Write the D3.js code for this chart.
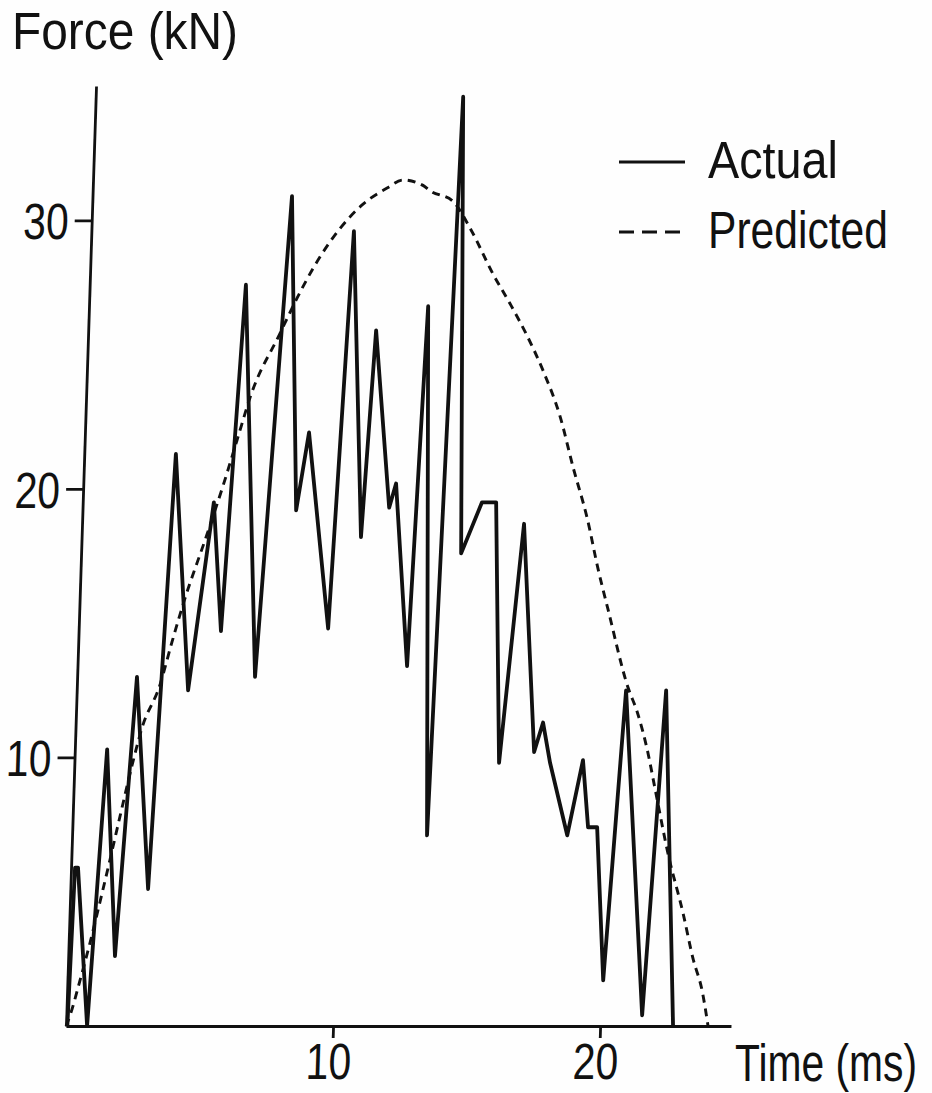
<!DOCTYPE html>
<html>
<head>
<meta charset="utf-8">
<script src="https://cdn.jsdelivr.net/npm/d3@7"></script>
<style>
  html, body { margin: 0; padding: 0; background: #fefefe; }
  svg { display: block; }
  text { font-family: "Liberation Sans", Arial, sans-serif; fill: #111; }
</style>
</head>
<body>
<svg id="chart" width="932" height="1093"></svg>
<script>
// Measured impact force (kN) against time (ms)
const actualTime  = [0.05, 0.15, 0.26, 0.79, 1.21, 1.75, 2.24, 2.91, 3.43, 4.17, 4.91, 5.33, 5.85, 6.66, 7.47, 8.00, 8.39, 9.34, 9.83, 10.46, 10.78, 11.48, 11.71, 12.34, 12.70, 13.29, 13.76, 14.23, 14.95, 15.48, 15.90, 16.55, 17.20, 17.50, 17.81, 18.54, 19.04, 19.31, 19.65, 20.06, 20.57, 21.56, 22.07, 22.73];
const actualForce = [0.0, 5.9, 5.9, 0.0, 10.3, 2.6, 13.0, 5.1, 21.3, 12.5, 19.5, 14.7, 27.6, 13.0, 30.9, 19.2, 22.1, 14.8, 29.6, 18.2, 25.9, 19.3, 20.2, 13.4, 26.8, 7.1, 34.6, 17.6, 19.5, 19.5, 9.8, 18.7, 10.2, 11.3, 9.8, 7.1, 9.9, 7.4, 7.4, 1.7, 12.5, 0.4, 12.5, 0.0];

// Model prediction of the same impact
const predictedTime  = [0.0, 0.14, 0.47, 0.80, 1.12, 1.45, 1.77, 2.16, 2.49, 3.11, 3.51, 3.88, 4.69, 5.23, 5.70, 6.14, 7.19, 7.78, 8.34, 9.31, 10.14, 11.02, 11.61, 12.36, 12.63, 13.51, 14.18, 15.09, 15.76, 16.44, 17.08, 17.77, 18.32, 18.91, 19.38, 19.80, 20.64, 21.01, 21.43, 21.78, 22.34, 22.97, 23.40, 23.78, 24.04];
const predictedForce = [0.0, 0.4, 1.7, 3.1, 4.6, 6.2, 7.8, 9.7, 11.1, 12.7, 14.3, 15.7, 18.3, 20.1, 21.8, 23.4, 25.8, 27.1, 28.2, 29.7, 30.6, 31.2, 31.5, 31.3, 31.1, 30.7, 29.7, 28.0, 26.9, 25.7, 24.4, 22.7, 20.8, 18.9, 17.0, 15.5, 12.6, 11.7, 10.3, 8.8, 6.4, 4.2, 2.5, 1.3, 0.0];

const yTicks = [10, 20, 30];
const xTicks = [10, 20];
const legendItems = [
  { label: "Actual",    dash: null,   width: 130 },
  { label: "Predicted", dash: "15,8", width: 180 }
];

const svg = d3.select("#chart");
const ink = "#111";
const fontSize = 51;

// narrow lettering: squeeze each label horizontally
function narrow(sel, factor) {
  sel.each(function () {
    const w = this.getComputedTextLength();
    d3.select(this).attr("textLength", w * factor).attr("lengthAdjust", "spacingAndGlyphs");
  });
}
function fitWidth(sel, width) {
  sel.attr("textLength", width).attr("lengthAdjust", "spacingAndGlyphs");
}

const plotW = 665, plotH = 940;
const x = d3.scaleLinear().domain([0, 24.9]).range([0, plotW]);
const y = d3.scaleLinear().domain([0, 35]).range([plotH, 0]);

// the printed frame leans slightly: shear about the origin corner
const plot = svg.append("g")
  .attr("transform", `translate(66,1026) skewX(-1.83) translate(0,${-plotH})`);

// axes
const yAxis = plot.append("g")
  .call(d3.axisLeft(y).tickValues(yTicks).tickSize(17).tickSizeOuter(0).tickPadding(6).tickFormat(d3.format("d")));
const xAxis = plot.append("g")
  .attr("transform", `translate(0,${plotH})`)
  .call(d3.axisBottom(x).tickValues(xTicks).tickSize(12).tickSizeOuter(0).tickPadding(4).tickFormat(d3.format("d")));

[yAxis, xAxis].forEach(g => {
  g.attr("font-family", null).attr("font-size", null);
  g.select(".domain").attr("stroke", ink).attr("stroke-width", 2.8);
  g.selectAll(".tick line").attr("stroke", ink).attr("stroke-width", 2.8);
  g.selectAll(".tick text")
    .style("font-size", fontSize + "px")
    .attr("fill", ink)
    .call(narrow, 0.8);
});
yAxis.selectAll(".tick text").attr("dy", "0.36em");
xAxis.selectAll(".tick text").attr("dy", "0.72em").attr("dx", -4);

// series
const line = d3.line().x(d => x(d[0])).y(d => y(d[1]));

plot.append("path")
  .datum(d3.zip(predictedTime, predictedForce))
  .attr("fill", "none")
  .attr("stroke", ink)
  .attr("stroke-width", 2.9)
  .attr("stroke-dasharray", "8,6")
  .attr("d", line.curve(d3.curveMonotoneX));

plot.append("path")
  .datum(d3.zip(actualTime, actualForce))
  .attr("fill", "none")
  .attr("stroke", ink)
  .attr("stroke-width", 3.8)
  .attr("stroke-linejoin", "round")
  .attr("d", line.curve(d3.curveLinear));

// axis titles
svg.append("text")
  .attr("x", 12).attr("y", 49)
  .style("font-size", fontSize + "px")
  .text("Force (kN)")
  .call(fitWidth, 226);

svg.append("text")
  .attr("x", 735).attr("y", 1081)
  .style("font-size", fontSize + "px")
  .text("Time (ms)")
  .call(fitWidth, 182);

// legend
const legend = svg.append("g").attr("transform", "translate(619,162)");
const rows = legend.selectAll("g").data(legendItems).join("g")
  .attr("transform", (d, i) => `translate(0,${i * 70})`);
rows.append("line")
  .attr("x1", 0).attr("x2", 66)
  .attr("stroke", ink).attr("stroke-width", 2.8)
  .attr("stroke-dasharray", d => d.dash);
rows.append("text")
  .attr("x", 89).attr("y", 16)
  .style("font-size", fontSize + "px")
  .text(d => d.label)
  .each(function (d) { d3.select(this).call(fitWidth, d.width); });
</script>
</body>
</html>
